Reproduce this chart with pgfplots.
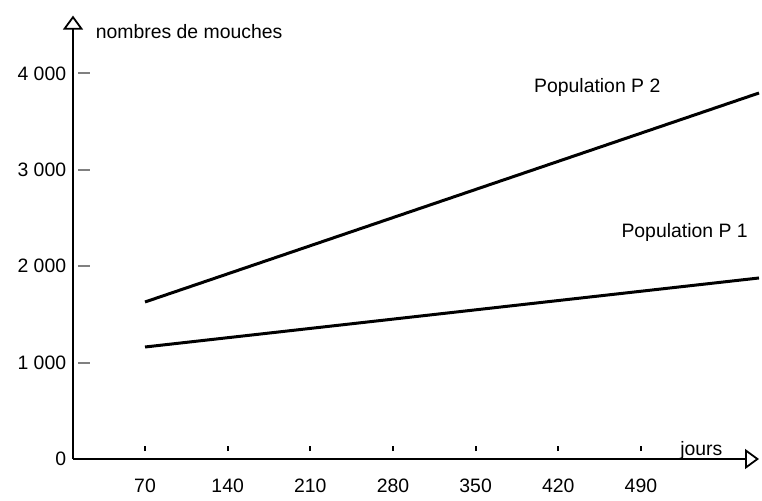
\documentclass[border=0pt]{standalone}
\usepackage{pgfplots}
\pgfplotsset{compat=1.18}
\usepackage{fontspec}
\setmainfont{Liberation Sans}
\usetikzlibrary{arrows.meta}
\begin{document}
\fontsize{9.7}{11}\selectfont
\begin{tikzpicture}[font=\fontsize{9.7}{11}\selectfont]
\useasboundingbox (0,0) rectangle (381pt,250pt);
\begin{axis}[
  at={(36.5pt,20.5pt)}, anchor=south west,
  scale only axis, width=343pt, height=221.7pt,
  xmin=9, xmax=590, ymin=0, ymax=4600,
  axis x line=bottom, axis y line=left,
  axis line style={line width=1.1pt, -{Triangle[open, length=7pt, width=10pt, line width=0.9pt]}},
  xtick=\empty,
  extra x ticks={70,140,210,280,350,420,490},
  extra x tick labels={70,140,210,280,350,420,490},
  extra x tick style={major tick length=2.5pt, tick style={yshift=4pt, line width=1pt, draw=black}},
  ytick={1000,2000,3000,4000},
  yticklabels={1 000,2 000,3 000,4 000},
  extra y ticks={0}, extra y tick labels={0},
  extra y tick style={tick style={draw=none}},
  tick align=inside,
  major tick length=6pt,
  ytick style={xshift=2.5pt, line width=1pt},
  xticklabel style={anchor=north, yshift=-6.3pt},
  yticklabel style={anchor=east},
  clip=false,
]
\addplot[black, line width=1.5pt] coordinates {(70,1629) (590,3797)};
\addplot[black, line width=1.5pt] coordinates {(70,1162) (590,1878)};
\node[anchor=west, inner sep=0pt] at (axis cs:28,4430) {nombres de mouches};
\node[anchor=base west, inner sep=0pt] at (axis cs:523,41) {jours};
\node at (axis cs:453,3859) {Population P 2};
\node at (axis cs:527,2355) {Population P 1};
\end{axis}
\end{tikzpicture}
\end{document}
